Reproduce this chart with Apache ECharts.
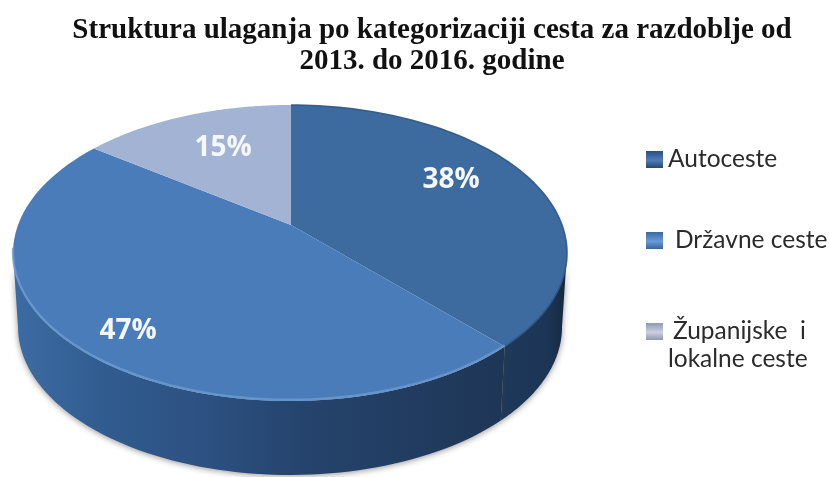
<!DOCTYPE html>
<html><head><meta charset="utf-8">
<style>html,body{margin:0;padding:0;background:#fff}#c{width:829px;height:477px}</style>
<script src="https://cdn.jsdelivr.net/npm/echarts@6/dist/echarts.min.js"></script>
</head><body><div id="c"></div>
<script>
const titleText = 'Struktura ulaganja po kategorizaciji cesta za razdoblje od\n2013. do 2016. godine';
const categories = ['Autoceste', 'Državne ceste', 'Županijske i lokalne ceste'];
const shares = [38, 47, 15];

// drawing geometry (tilted disc with perspective)
const topDisc = {cx: 290, cy: 253, rx: 277, ry: 148};
const lowDisc = {cx: 290, cy: 327, rx: 272, ry: 148};
const apex = {x: 291, y: 225};
const topColors = ['#3D6A9F', '#4A7CB9', '#A3B3D3'];
const wallStops = [
  [[0, '#1E385A'], [0.7, '#1C3555'], [1, '#15273D']],
  [[0, '#3C6CA4'], [0.18, '#315C90'], [0.4, '#2C5080'], [0.6, '#25436C'], [1, '#1E3656']],
  [[0, '#888'], [1, '#888']]
];
const labelSpots = [[451, 180], [128, 331], [223, 148]];
const total = shares.reduce((a, b) => a + b, 0);

function rimPhi(theta) {
  const dx = Math.sin(theta) * topDisc.rx, dy = -Math.cos(theta) * topDisc.ry;
  const ox = (apex.x - topDisc.cx) / topDisc.rx, oy = (apex.y - topDisc.cy) / topDisc.ry;
  const ux = dx / topDisc.rx, uy = dy / topDisc.ry;
  const A = ux * ux + uy * uy, B = 2 * (ox * ux + oy * uy), C = ox * ox + oy * oy - 1;
  const t = (-B + Math.sqrt(B * B - 4 * A * C)) / (2 * A);
  return Math.atan2(ox + t * ux, -(oy + t * uy));
}
const pt = (d, phi) => [d.cx + d.rx * Math.sin(phi), d.cy - d.ry * Math.cos(phi)];
function samples(a, b, n) { const r = []; for (let i = 0; i <= n; i++) r.push(a + (b - a) * i / n); return r; }
const HALF = Math.PI / 2;

function makeRender(idx) {
  return function (params, api) {
    const before = shares.slice(0, idx).reduce((a, b) => a + b, 0);
    const th0 = before / total * 2 * Math.PI, th1 = (before + api.value(0)) / total * 2 * Math.PI;
    let p0 = rimPhi(th0), p1 = rimPhi(th1);
    if (p0 < -0.0001) p0 += 2 * Math.PI;
    while (p1 <= p0) p1 += 2 * Math.PI;
    const children = [];
    const w0 = Math.max(p0, HALF), w1 = Math.min(p1, 3 * HALF);
    if (w1 > w0) {
      const phis = samples(w0, w1, 70);
      const xs = phis.map(f => pt(topDisc, f)[0]);
      const x0 = Math.min(...xs), x1 = Math.max(...xs);
      const stops = wallStops[idx].map(s => ({offset: s[0], color: s[1]}));
      children.push({
        type: 'polygon', z2: 1,
        shape: {points: phis.map(f => pt(topDisc, f)).concat(phis.slice().reverse().map(f => pt(lowDisc, f)))},
        style: {
          fill: {type: 'linear', x: x0, y: 0, x2: x1, y2: 0, global: true, colorStops: stops},
          shadowColor: 'rgba(60,60,60,0.55)', shadowBlur: 6, shadowOffsetY: 1
        }
      });
    }
    const arc = samples(p0, p1, 90);
    children.push({
      type: 'polygon', z2: 5,
      shape: {points: [[apex.x, apex.y]].concat(arc.map(f => pt(topDisc, f)))},
      style: {fill: topColors[idx]}
    });
    if (idx === 1) {
      children.push({
        type: 'polyline', z2: 6,
        shape: {points: samples(p0, p1, 90).filter(f => f < 4.75).map(f => {
          const q = pt(topDisc, f); return [q[0], q[1] - 1.2];
        })},
        style: {fill: null, stroke: '#6C9BD0', lineWidth: 2.4, opacity: 0.8}
      });
    }
    if (idx === 0) {
      children.push({
        type: 'polyline', z2: 6,
        shape: {points: samples(p0, p1, 90).map(f => pt(topDisc, f))},
        style: {fill: null, stroke: '#2F5683', lineWidth: 1.6, opacity: 0.9}
      });
    }
    children.push({
      type: 'text', z2: 10,
      style: {
        text: api.value(0) + '%', x: labelSpots[idx][0], y: labelSpots[idx][1],
        align: 'center', verticalAlign: 'middle', fill: '#F4F7FB',
        font: 'bold 28px "Open Sans", sans-serif'
      }
    });
    return {type: 'group', children};
  };
}

const legendIcon = [
  ['#2B4E80', '#4F7DB8', '#26466F'],
  ['#3B689F', '#6A9BD6', '#3A6598'],
  ['#8E99B3', '#C9D0E0', '#8F98AE']
];
function legendFor(i, left, top, label, pad) {
  return {
    left, top, padding: 0, orient: 'horizontal', itemWidth: 17, itemHeight: 17,
    data: [{name: categories[i], icon: 'rect', itemStyle: {color: {
      type: 'linear', x: 0, y: 0, x2: 0, y2: 1,
      colorStops: [{offset: 0, color: legendIcon[i][0]}, {offset: 0.55, color: legendIcon[i][1]}, {offset: 1, color: legendIcon[i][2]}]
    }}}],
    formatter: () => label,
    selectedMode: false,
    textStyle: {fontFamily: 'Lato', fontSize: 24.5, color: '#2b2b2b', padding: [0, 0, 0, pad]}
  };
}

const chart = echarts.init(document.getElementById('c'), null, {renderer: 'canvas'});
chart.setOption({
  animation: false,
  backgroundColor: '#fff',
  title: {
    text: titleText, left: 427, top: 10, textAlign: 'center',
    textStyle: {fontFamily: 'Liberation Serif', fontWeight: 'bold', fontSize: 29, lineHeight: 31, color: '#111'}
  },
  legend: [
    legendFor(0, 646, 147, 'Autoceste', 0),
    legendFor(1, 646, 228, 'Državne ceste', 7),
    legendFor(2, 646, 319, 'Županijske  i', 5)
  ],
  graphic: [{
    type: 'text', left: 668, top: 347,
    style: {text: 'lokalne ceste', font: '24.5px Lato', fill: '#2b2b2b'}
  }],
  series: categories.map((name, i) => ({
    type: 'custom', name, coordinateSystem: 'none',
    data: [[shares[i]]], renderItem: makeRender(i), silent: true
  }))
});
</script></body></html>
